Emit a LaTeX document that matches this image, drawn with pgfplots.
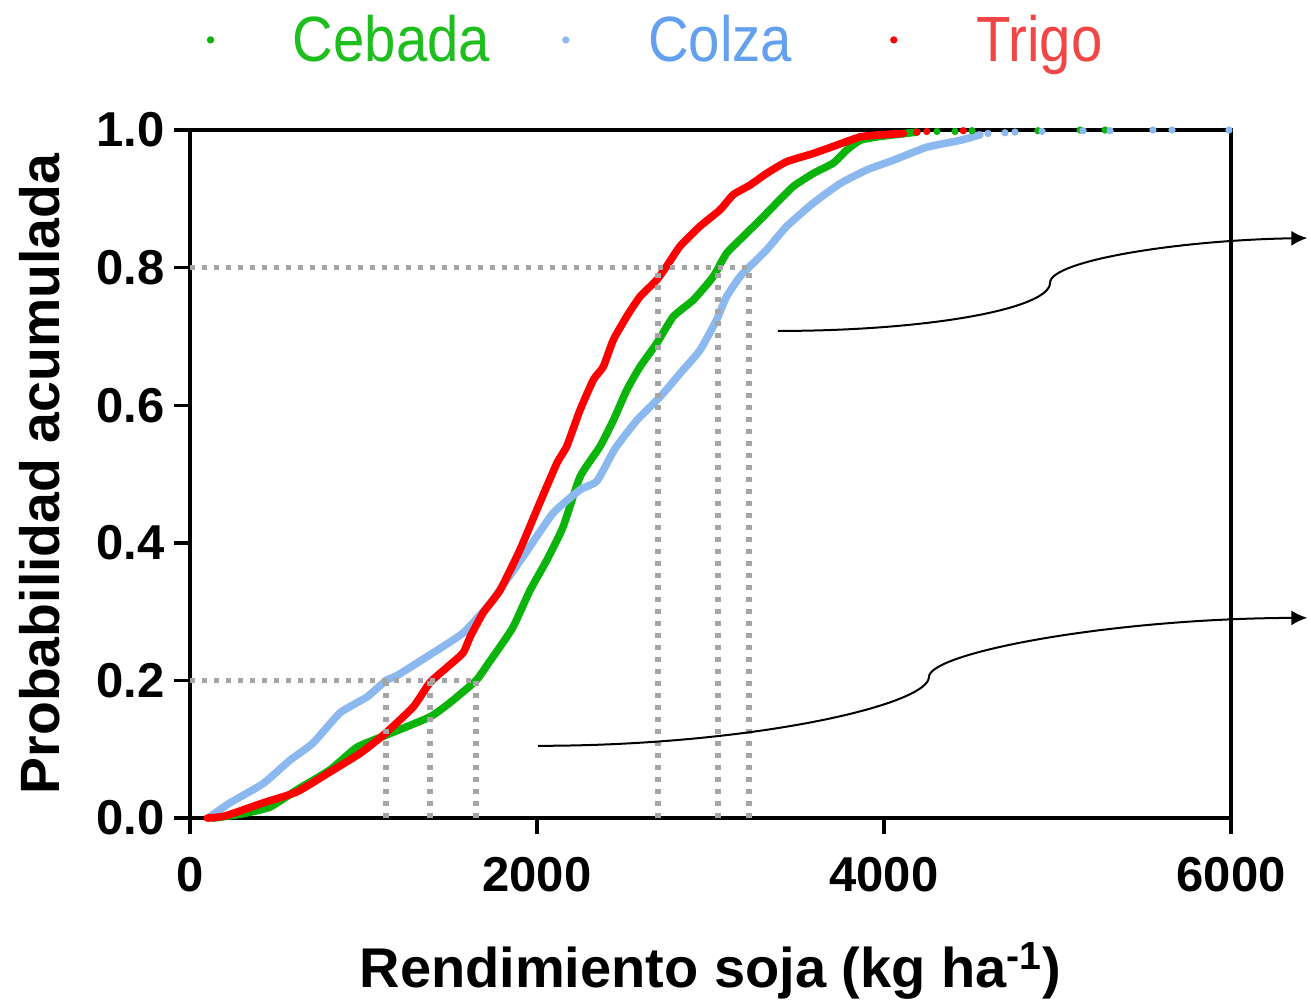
\documentclass[border=0pt]{standalone}
\usepackage{fontspec}
\setmainfont{Liberation Sans}
\newfontfamily\legfont[FakeStretch=0.88]{Liberation Sans}
\usepackage{pgfplots}
\pgfplotsset{compat=1.18}
\usetikzlibrary{arrows.meta}

\definecolor{cgreen}{RGB}{10,180,10}
\definecolor{cblue}{RGB}{140,184,240}
\definecolor{cred}{RGB}{255,0,0}
\definecolor{tgreen}{RGB}{30,190,30}
\definecolor{tblue}{RGB}{100,160,240}
\definecolor{tred}{RGB}{242,70,70}
\definecolor{dotgray}{RGB}{165,165,165}

\begin{document}
\begin{tikzpicture}
\begin{axis}[
    scale only axis,
    width=520.5pt, height=344pt,
    xmin=0, xmax=6000,
    ymin=0, ymax=1,
    clip=false,
    axis line style={line width=1.7pt},
    tick style={line width=1.7pt, black},
    tick align=outside,
    tick pos=left,
    major tick length=8pt,
    xtick={0,2000,4000,6000},
    ytick={0,0.2,0.4,0.6,0.8,1.0},
    /pgf/number format/assume math mode=true,
    xticklabel style={/pgf/number format/1000 sep={}, inner sep=0pt, yshift=-11.5pt},
    yticklabel style={/pgf/number format/.cd, fixed, fixed zerofill, precision=1, /tikz/.cd, inner sep=0pt, xshift=-4.5pt},
    tick label style={font=\fontsize{24.5}{29}\selectfont\bfseries},
    xlabel={Rendimiento soja (kg ha\textsuperscript{-1})},
    ylabel={Probabilidad acumulada},
    xlabel style={font=\fontsize{28}{33}\selectfont\bfseries, at={(axis description cs:0.5,-0.247)}, anchor=base},
    ylabel style={font=\fontsize{27.7}{33}\selectfont\bfseries, at={(axis description cs:-0.1249,0.5)}, anchor=base},
    legend columns=3,
    legend image code/.code={\fill (0pt,0pt) circle (1.6pt); \path (41pt,0pt);},
    legend style={draw=none, fill=none, inner sep=0pt,
        at={(axis description cs:0.0159,1.131)}, anchor=west,
        font=\legfont\fontsize{32}{36}\selectfont,
        nodes={inner sep=0pt, text depth=0.15em},
        /tikz/column 2/.style={column sep=36pt},
        /tikz/column 4/.style={column sep=49pt}},
]

% Cebada
\addplot[cgreen, line width=3.8pt, line join=round, line cap=round, smooth, tension=0.3, forget plot] coordinates {
(133,0)(300,0.006)(461,0.016)(616,0.041)(807,0.07)(963,0.103)(1135,0.121)
(1383,0.147)(1500,0.168)(1649,0.2)(1720,0.225)(1787,0.249)(1863,0.278)
(1960,0.331)(2057,0.375)(2150,0.423)(2248,0.496)(2363,0.54)(2440,0.578)
(2517,0.622)(2594,0.656)(2690,0.69)(2786,0.729)(2901,0.753)(3016,0.787)
(3093,0.821)(3208,0.85)(3304,0.874)(3381,0.894)(3477,0.918)(3593,0.937)
(3708,0.952)(3785,0.971)(3862,0.985)(3958,0.99)(4053,0.993)(4190,0.997)
};
% Colza
\addplot[cblue, line width=3.8pt, line join=round, line cap=round, smooth, tension=0.3, forget plot] coordinates {
(115,0.002)(230,0.022)(421,0.05)(576,0.084)(709,0.109)(865,0.153)(1020,0.176)
(1130,0.2)(1193,0.207)(1400,0.24)(1574,0.269)(1729,0.312)(1920,0.38)
(2092,0.443)(2248,0.477)(2346,0.49)(2450,0.537)(2575,0.578)(2709,0.612)
(2824,0.646)(2939,0.68)(3035,0.724)(3093,0.758)(3170,0.787)(3228,0.802)
(3324,0.826)(3439,0.86)(3593,0.894)(3746,0.922)(3900,0.942)(4053,0.956)
(4246,0.975)(4438,0.985)(4553,0.993)
};
% Trigo
\addplot[cred, line width=3.8pt, line join=round, line cap=round, smooth, tension=0.3, forget plot] coordinates {
(100,0)(202,0.003)(421,0.022)(616,0.038)(807,0.067)(980,0.094)(1112,0.12)
(1285,0.161)(1383,0.197)(1481,0.219)(1574,0.24)(1614,0.263)(1689,0.298)
(1787,0.331)(1902,0.39)(1999,0.448)(2115,0.516)(2171,0.54)(2248,0.593)
(2325,0.637)(2382,0.656)(2440,0.695)(2517,0.729)(2594,0.758)(2690,0.782)
(2747,0.802)(2824,0.831)(2939,0.86)(3055,0.884)(3131,0.906)(3228,0.92)
(3324,0.937)(3439,0.954)(3593,0.966)(3727,0.978)(3862,0.99)(3977,0.993)
(4111,0.995)
};

% sparse upper tails, also legend markers
\addplot[cgreen, only marks, mark=*, mark size=1.6pt] coordinates {
(4305,0.998)(4409,0.998)(4507,0.999)(4887,0.999)(5130,1)(5274,1)
};
\addlegendentry{\textcolor{tgreen}{Cebada}}
\addplot[cblue, only marks, mark=*, mark size=1.6pt] coordinates {
(4599,0.995)(4697,0.996)(4755,0.997)(4911,0.998)(5147,0.999)(5303,0.999)
(5550,1)(5660,1)(5988,1)
};
\addlegendentry{\textcolor{tblue}{Colza}}
\addplot[cred, only marks, mark=*, mark size=1.6pt] coordinates {
(4190,0.997)(4246,0.998)(4457,0.999)
};
\addlegendentry{\textcolor{tred}{Trigo}}

% percentile guides
\addplot[dotgray, line width=2.65pt, dash pattern=on 2.65pt off 3.35pt, forget plot] coordinates {(0,0.8)(3222,0.8)};
\addplot[dotgray, line width=2.65pt, dash pattern=on 2.65pt off 3.35pt, forget plot] coordinates {(2697,0)(2697,0.8)};
\addplot[dotgray, line width=2.65pt, dash pattern=on 2.65pt off 3.35pt, forget plot] coordinates {(3043,0)(3043,0.8)};
\addplot[dotgray, line width=2.65pt, dash pattern=on 2.65pt off 3.35pt, forget plot] coordinates {(3222,0)(3222,0.8)};
\addplot[dotgray, line width=2.65pt, dash pattern=on 2.65pt off 3.35pt, forget plot] coordinates {(0,0.2)(1649,0.2)};
\addplot[dotgray, line width=2.65pt, dash pattern=on 2.65pt off 3.35pt, forget plot] coordinates {(1130,0)(1130,0.2)};
\addplot[dotgray, line width=2.65pt, dash pattern=on 2.65pt off 3.35pt, forget plot] coordinates {(1383,0)(1383,0.2)};
\addplot[dotgray, line width=2.65pt, dash pattern=on 2.65pt off 3.35pt, forget plot] coordinates {(1649,0)(1649,0.2)};

% brace-like arrows
\draw[line width=1pt, -{Latex[length=8pt,width=7.5pt]}]
  (axis cs:3389,0.708) .. controls (axis cs:4250,0.708) and (axis cs:4957,0.74) ..
  (axis cs:4957,0.778) .. controls (axis cs:4957,0.81) and (axis cs:5700,0.84) ..
  (axis cs:6440,0.843);
\draw[line width=1pt, -{Latex[length=8pt,width=7.5pt]}]
  (axis cs:2006,0.105) .. controls (axis cs:3245,0.105) and (axis cs:4259,0.165) ..
  (axis cs:4259,0.205) .. controls (axis cs:4259,0.24) and (axis cs:5300,0.29) ..
  (axis cs:6440,0.291);

\coordinate (bbsw) at (axis cs:-1095,-0.266);
\coordinate (bbne) at (axis cs:6461,1.189);
\end{axis}
\pgfresetboundingbox
\path[use as bounding box] (bbsw) rectangle (bbne);
\end{tikzpicture}
\end{document}
